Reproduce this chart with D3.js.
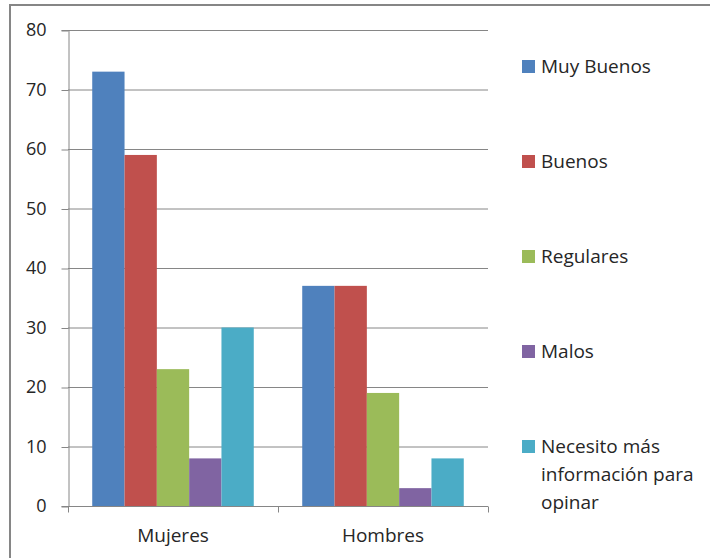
<!DOCTYPE html>
<html><head><meta charset="utf-8">
<script src="https://cdn.jsdelivr.net/npm/d3@7"></script>
<style>body{margin:0;background:#fff}svg{display:block}text{font-family:"Open Sans",sans-serif;fill:#262626}</style>
</head><body>
<svg id="c" width="710" height="558"></svg>
<script>
const categories = ["Mujeres", "Hombres"];
const seriesNames = ["Muy Buenos", "Buenos", "Regulares", "Malos", "Necesito más información para opinar"];
const legendLines = [["Muy Buenos"], ["Buenos"], ["Regulares"], ["Malos"], ["Necesito más", "información para", "opinar"]];
const muyBuenos = [73, 37];
const buenos = [59, 37];
const regulares = [23, 19];
const malos = [8, 3];
const necesito = [30, 8];
const yTicks = [0, 10, 20, 30, 40, 50, 60, 70, 80];
const colors = ["#4F81BD", "#C0504D", "#9BBB59", "#8064A2", "#4BACC6"];
const seriesValues = [muyBuenos, buenos, regulares, malos, necesito];

const svg = d3.select("#c");
svg.append("rect").attr("x", 10).attr("y", 5).attr("width", 720).attr("height", 580)
  .attr("fill", "#fff").attr("stroke", "#868686").attr("stroke-width", 2);

const L = 68, R = 488, T = 30, B = 506;
const x0 = d3.scaleBand().domain(categories).range([L, R]).paddingInner(0).paddingOuter(0);
const y = d3.scaleLinear().domain([0, 80]).range([B, T]);
const x1 = d3.scaleBand().domain(seriesNames).range([0, x0.bandwidth()]).paddingOuter(0.75).paddingInner(0);

// gridlines
svg.append("g").selectAll("line").data(yTicks.filter(d => d > 0)).join("line")
  .attr("x1", L).attr("x2", R).attr("y1", d => y(d) + 0.5).attr("y2", d => y(d) + 0.5)
  .attr("stroke", "#868686").attr("stroke-width", 1);

// bars
const g = svg.append("g");
categories.forEach((c, ci) => {
  g.selectAll(null).data(seriesNames.map((s, si) => ({s, v: seriesValues[si][ci], color: colors[si]}))).join("rect")
    .attr("x", d => x0(c) + x1(d.s))
    .attr("y", d => y(d.v))
    .attr("width", x1.bandwidth())
    .attr("height", d => y(0) - y(d.v))
    .attr("fill", d => d.color);
});

// y axis
const ya = svg.append("g").attr("transform", `translate(${L + 0.5},0)`)
  .call(d3.axisLeft(y).tickValues(yTicks).tickSize(7).tickPadding(15));
ya.select(".domain").attr("stroke", "#868686");
ya.selectAll(".tick line").attr("stroke", "#868686").attr("transform", "translate(0,0.5)");
ya.selectAll("text").attr("font-size", 18).attr("font-family", "Open Sans").attr("fill", "#262626");

// x axis
const xa = svg.append("g").attr("transform", `translate(0,${B + 0.5})`)
  .call(d3.axisBottom(x0).tickSize(0).tickPadding(22));
xa.select(".domain").attr("stroke", "#868686").attr("d", `M${L},0H${R}`);
xa.selectAll("text").attr("font-size", 19).attr("font-family", "Open Sans").attr("fill", "#262626");
const bounds = [L, x0("Hombres"), R];
xa.selectAll(".bt").data(bounds).join("line").attr("class", "bt")
  .attr("x1", d => Math.round(d) + 0.5).attr("x2", d => Math.round(d) + 0.5).attr("y1", 0).attr("y2", 6)
  .attr("stroke", "#868686");

// legend
const legBase = [73, 168, 263, 358, 453];
const lg = svg.append("g");
seriesNames.forEach((s, i) => {
  lg.append("rect").attr("x", 522).attr("y", legBase[i] - 13).attr("width", 13).attr("height", 13).attr("fill", colors[i]);
  const t = lg.append("text").attr("x", 541).attr("y", legBase[i]).attr("font-size", 19);
  legendLines[i].forEach((ln, k) => t.append("tspan").attr("x", 541).attr("dy", k === 0 ? 0 : 28).text(ln));
});
</script>
</body></html>
